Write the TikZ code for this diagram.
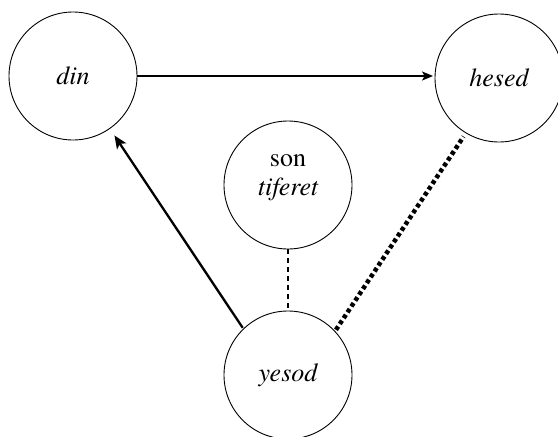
\documentclass[tikz,border=0pt]{standalone}
\usepackage{fontspec}
\setmainfont{TeX Gyre Termes}
\usetikzlibrary{arrows.meta}
\begin{document}
\begin{tikzpicture}[x=1pt,y=-1pt,
  sefira/.style={draw, circle, line width=0.9pt, minimum size=128pt, inner sep=0pt, font=\fontsize{26}{29}\selectfont\itshape, align=center},
  arr/.style={-{Stealth[length=11pt,width=9pt,inset=2.5pt]}},
]
\useasboundingbox (0,0) rectangle (558,437);
\node[sefira] (din) at (73,76) {din};
\node[sefira] (hesed) at (499,78) {hesed};
\node[sefira, label={[font=\fontsize{26}{29}\selectfont, align=center, yshift=7pt]center:son\\\itshape tiferet}] (tif) at (288,185) {};
\node[sefira] (yesod) at (288,375) {yesod};
\draw[arr, line width=1.6pt, shorten >=1.5pt] (din.east) -- (din.east -| hesed.west);
\draw[-{Stealth[length=13pt,width=11pt,inset=3pt]}, line width=2.3pt, shorten >=8pt, shorten <=1pt] (yesod.134) -- (din.305);
\draw[line width=1.5pt, dash pattern=on 5pt off 4pt] (tif.south) -- (yesod.north);
\draw[line width=4.5pt, dash pattern=on 4pt off 3pt, shorten >=4pt, shorten <=1.5pt] (yesod.43) -- (hesed.239);
\end{tikzpicture}
\end{document}
